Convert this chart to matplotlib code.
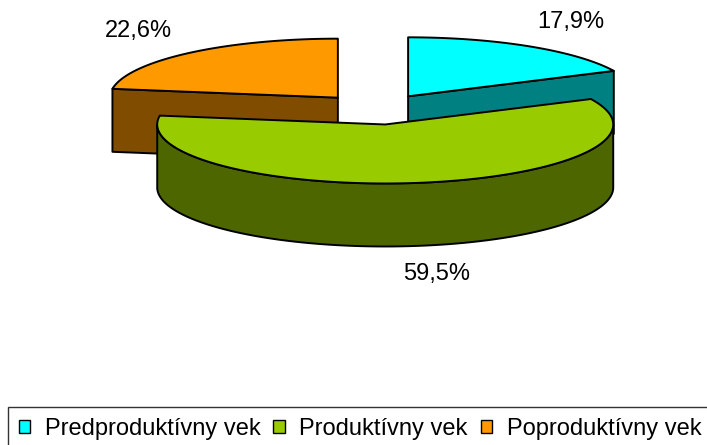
import numpy as np
import matplotlib
matplotlib.use("Agg")
import matplotlib.pyplot as plt
from matplotlib.patches import Polygon, Patch

plt.rcParams['font.family'] = ['Liberation Sans', 'DejaVu Sans']

# data
labels = ['Predproduktívny vek', 'Produktívny vek', 'Poproduktívny vek']
shares = [17.9, 59.5, 22.6]
pct_labels = ['17,9%', '59,5%', '22,6%']
top_colors = ['#00FFFF', '#99CC00', '#FF9900']
side_colors = ['#008080', '#4D6600', '#804D00']

# 3d pie layout (pixel units)
cx, cy = 376.5, 109.3
a, b = 228.0, 59.0
depth = 63.0
explode = 0.26

fig = plt.figure(figsize=(7.07, 4.45), dpi=100, facecolor='w')
ax = fig.add_axes([0, 0, 1, 1])
ax.set_xlim(0, 707)
ax.set_ylim(445, 0)
ax.axis('off')


def rim(x0, y0, t):
    t = np.radians(t)
    return np.column_stack([x0 + a * np.cos(t), y0 - b * np.sin(t)])


slices = []
start = 90.0
for i, s in enumerate(shares):
    t1 = start
    t2 = start - s * 3.6
    tm = np.radians((t1 + t2) / 2)
    x0 = cx + explode * a * np.cos(tm)
    y0 = cy - explode * b * np.sin(tm)
    slices.append((i, t1, t2, tm, x0, y0))
    start = t2

kw = dict(edgecolor='black', linewidth=1.4, joinstyle='round')

# back slices first
for i, t1, t2, tm, x0, y0 in sorted(slices, key=lambda r: r[5]):
    # radial cut faces
    for te, vis in ((t1, np.cos(np.radians(t1)) < -1e-6),
                    (t2, np.cos(np.radians(t2)) > 1e-6)):
        if vis:
            p = rim(x0, y0, [te])[0]
            pts = [(x0, y0), tuple(p), (p[0], p[1] + depth), (x0, y0 + depth)]
            ax.add_patch(Polygon(pts, closed=True, facecolor=side_colors[i], **kw))
    # outer wall (front-facing part)
    ts = np.linspace(t1, t2, 600)
    front = np.sin(np.radians(ts)) < 0
    if front.any():
        idx = np.where(front)[0]
        runs = np.split(idx, np.where(np.diff(idx) > 1)[0] + 1)
        for r in runs:
            top = rim(x0, y0, ts[r])
            bot = top[::-1] + [0, depth]
            ax.add_patch(Polygon(np.vstack([top, bot]), closed=True,
                                 facecolor=side_colors[i], **kw))
    # top face
    arc = rim(x0, y0, np.linspace(t1, t2, 300))
    ax.add_patch(Polygon(np.vstack([[x0, y0], arc]), closed=True,
                         facecolor=top_colors[i], **kw))
    # percentage label
    lx = x0 + 1.34 * a * np.cos(tm) + (6 if np.sin(tm) < 0 else 0)
    ly = y0 - 1.48 * b * np.sin(tm) + (depth if np.sin(tm) < 0 else 0)
    ax.text(lx, ly, pct_labels[i], ha='center', va='center', fontsize=17)

handles = [Patch(facecolor=c, edgecolor='black', linewidth=1.0) for c in top_colors]
leg = fig.legend(handles, labels, loc='upper left', ncol=3,
                 bbox_to_anchor=(8 / 707, 1 - 407 / 445), borderaxespad=0,
                 fontsize=17, frameon=True, fancybox=False,
                 handlelength=0.5, handleheight=0.5, handletextpad=0.6,
                 columnspacing=0.55, borderpad=0.45)
leg.get_frame().set_edgecolor('black')
leg.get_frame().set_linewidth(1.0)

fig.savefig('out.png', dpi=100, facecolor='w')
